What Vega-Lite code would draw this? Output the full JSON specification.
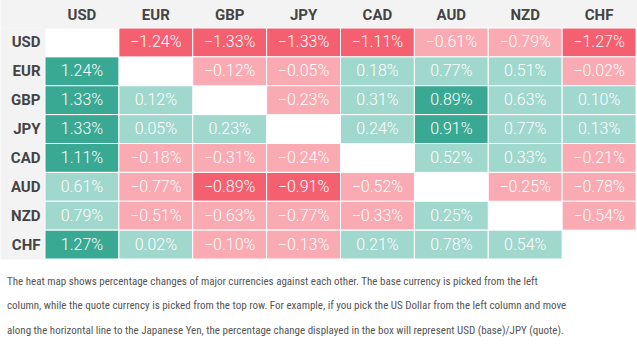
{
  "$schema": "https://vega.github.io/schema/vega-lite/v6.json",
  "autosize": {"type": "none"},
  "padding": {"left": 45, "top": 28, "right": 1, "bottom": 94},
  "width": 591,
  "height": 231,
  "background": "#ffffff",
  "config": {"view": {"stroke": null, "fill": "#ffffff"}},
  "title": {
    "text": [
      "The heat map shows percentage changes of major currencies against each other. The base currency is picked from the left",
      "column, while the quote currency is picked from the top row. For example, if you pick the US Dollar from the left column and move",
      "along the horizontal line to the Japanese Yen, the percentage change displayed in the box will represent USD (base)/JPY (quote)."
    ],
    "orient": "bottom",
    "anchor": "start",
    "frame": "group",
    "dx": -38,
    "offset": 16,
    "baseline": "top",
    "lineHeight": 24.5,
    "fontSize": 11,
    "fontWeight": "normal",
    "font": "Roboto Condensed, Liberation Sans Narrow, DejaVu Sans Condensed, Arial Narrow, Roboto, sans-serif",
    "color": "#555555"
  },
  "data": {
    "values": [
      {"base": "USD", "quote": "EUR", "v": -1.24},
      {"base": "USD", "quote": "GBP", "v": -1.33},
      {"base": "USD", "quote": "JPY", "v": -1.33},
      {"base": "USD", "quote": "CAD", "v": -1.11},
      {"base": "USD", "quote": "AUD", "v": -0.61},
      {"base": "USD", "quote": "NZD", "v": -0.79},
      {"base": "USD", "quote": "CHF", "v": -1.27},
      {"base": "EUR", "quote": "USD", "v": 1.24},
      {"base": "EUR", "quote": "GBP", "v": -0.12},
      {"base": "EUR", "quote": "JPY", "v": -0.05},
      {"base": "EUR", "quote": "CAD", "v": 0.18},
      {"base": "EUR", "quote": "AUD", "v": 0.77},
      {"base": "EUR", "quote": "NZD", "v": 0.51},
      {"base": "EUR", "quote": "CHF", "v": -0.02},
      {"base": "GBP", "quote": "USD", "v": 1.33},
      {"base": "GBP", "quote": "EUR", "v": 0.12},
      {"base": "GBP", "quote": "JPY", "v": -0.23},
      {"base": "GBP", "quote": "CAD", "v": 0.31},
      {"base": "GBP", "quote": "AUD", "v": 0.89},
      {"base": "GBP", "quote": "NZD", "v": 0.63},
      {"base": "GBP", "quote": "CHF", "v": 0.10},
      {"base": "JPY", "quote": "USD", "v": 1.33},
      {"base": "JPY", "quote": "EUR", "v": 0.05},
      {"base": "JPY", "quote": "GBP", "v": 0.23},
      {"base": "JPY", "quote": "CAD", "v": 0.24},
      {"base": "JPY", "quote": "AUD", "v": 0.91},
      {"base": "JPY", "quote": "NZD", "v": 0.77},
      {"base": "JPY", "quote": "CHF", "v": 0.13},
      {"base": "CAD", "quote": "USD", "v": 1.11},
      {"base": "CAD", "quote": "EUR", "v": -0.18},
      {"base": "CAD", "quote": "GBP", "v": -0.31},
      {"base": "CAD", "quote": "JPY", "v": -0.24},
      {"base": "CAD", "quote": "AUD", "v": 0.52},
      {"base": "CAD", "quote": "NZD", "v": 0.33},
      {"base": "CAD", "quote": "CHF", "v": -0.21},
      {"base": "AUD", "quote": "USD", "v": 0.61},
      {"base": "AUD", "quote": "EUR", "v": -0.77},
      {"base": "AUD", "quote": "GBP", "v": -0.89},
      {"base": "AUD", "quote": "JPY", "v": -0.91},
      {"base": "AUD", "quote": "CAD", "v": -0.52},
      {"base": "AUD", "quote": "NZD", "v": -0.25},
      {"base": "AUD", "quote": "CHF", "v": -0.78},
      {"base": "NZD", "quote": "USD", "v": 0.79},
      {"base": "NZD", "quote": "EUR", "v": -0.51},
      {"base": "NZD", "quote": "GBP", "v": -0.63},
      {"base": "NZD", "quote": "JPY", "v": -0.77},
      {"base": "NZD", "quote": "CAD", "v": -0.33},
      {"base": "NZD", "quote": "AUD", "v": 0.25},
      {"base": "NZD", "quote": "CHF", "v": -0.54},
      {"base": "CHF", "quote": "USD", "v": 1.27},
      {"base": "CHF", "quote": "EUR", "v": 0.02},
      {"base": "CHF", "quote": "GBP", "v": -0.10},
      {"base": "CHF", "quote": "JPY", "v": -0.13},
      {"base": "CHF", "quote": "CAD", "v": 0.21},
      {"base": "CHF", "quote": "AUD", "v": 0.78},
      {"base": "CHF", "quote": "NZD", "v": 0.54}
    ]
  },
  "transform": [
    {"calculate": "format(datum.v, '.2f') + '%'", "as": "label"}
  ],
  "resolve": {"axis": {"x": "independent", "y": "independent"}},
  "layer": [
    {
      "mark": {"type": "rect", "stroke": "#ffffff", "strokeWidth": 1},
      "encoding": {
        "x": {
          "field": "quote",
          "type": "nominal",
          "sort": ["USD", "EUR", "GBP", "JPY", "CAD", "AUD", "NZD", "CHF"],
          "scale": {"domain": ["USD", "EUR", "GBP", "JPY", "CAD", "AUD", "NZD", "CHF"], "paddingInner": 0, "paddingOuter": 0},
          "axis": {
            "orient": "top",
            "title": null,
            "labels": false,
            "ticks": false,
            "grid": false,
            "offset": 45,
            "domainWidth": 90,
            "domainColor": "#f3f3f3",
            "domainCap": "square",
            "zindex": 0
          }
        },
        "y": {
          "field": "base",
          "type": "nominal",
          "sort": ["USD", "EUR", "GBP", "JPY", "CAD", "AUD", "NZD", "CHF"],
          "scale": {"domain": ["USD", "EUR", "GBP", "JPY", "CAD", "AUD", "NZD", "CHF"], "paddingInner": 0, "paddingOuter": 0},
          "axis": {
            "orient": "left",
            "title": null,
            "labels": false,
            "ticks": false,
            "grid": false,
            "offset": 22.5,
            "domainWidth": 45,
            "domainColor": "#f3f3f3",
            "domainCap": "butt",
            "zindex": 0
          }
        },
        "color": {
          "field": "v",
          "type": "quantitative",
          "scale": {"type": "threshold", "domain": [-0.85, 0, 0.85], "range": ["#f4606f", "#f9aab3", "#a0d8cd", "#39a993"]},
          "legend": null
        }
      }
    },
    {
      "mark": {"type": "text", "color": "#ffffff", "font": "Roboto", "fontSize": 16, "fontWeight": 300},
      "encoding": {
        "x": {
          "field": "quote",
          "type": "nominal",
          "sort": ["USD", "EUR", "GBP", "JPY", "CAD", "AUD", "NZD", "CHF"],
          "axis": {
            "orient": "top",
            "title": null,
            "labelAngle": 0,
            "ticks": false,
            "domain": false,
            "grid": false,
            "offset": 14,
            "labelPadding": 0,
            "labelBaseline": "middle",
            "labelFont": "Roboto",
            "labelFontSize": 15,
            "labelFontWeight": "bold",
            "labelColor": "#444444",
            "zindex": 2
          }
        },
        "y": {
          "field": "base",
          "type": "nominal",
          "sort": ["USD", "EUR", "GBP", "JPY", "CAD", "AUD", "NZD", "CHF"],
          "axis": {
            "orient": "left",
            "title": null,
            "ticks": false,
            "domain": false,
            "grid": false,
            "offset": 0,
            "labelPadding": 5,
            "labelAlign": "right",
            "labelFont": "Roboto",
            "labelFontSize": 15,
            "labelFontWeight": "bold",
            "labelColor": "#444444",
            "zindex": 2
          }
        },
        "text": {"field": "label"}
      }
    }
  ]
}
